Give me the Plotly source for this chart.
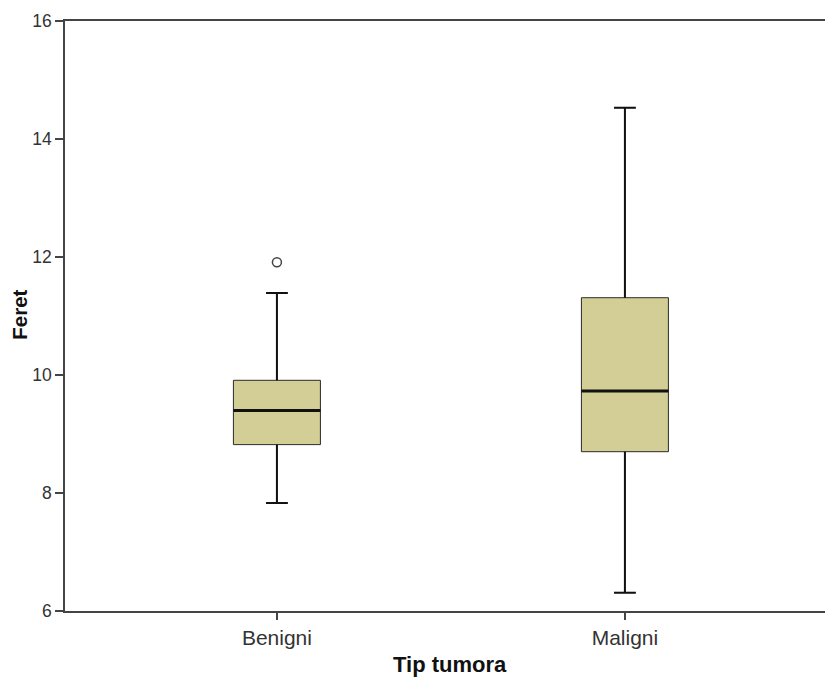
import plotly.graph_objects as go

# Feret diameter summary per tumour type
categories = ["Benigni", "Maligni"]
positions = [0, 1]
q1 = [8.82, 8.70]
median = [9.40, 9.73]
q3 = [9.91, 11.31]
lower_fence = [7.83, 6.31]
upper_fence = [11.39, 14.53]
outlier_pos = [0]
outlier_val = [11.91]

y_ticks = [6, 8, 10, 12, 14, 16]

BOX_W = 0.25
CAP_W = 0.0625
FILL = "#D2CE96"
INK = "#111111"
FONT = "Liberation Sans, Arial, sans-serif"

fig = go.Figure()

fig.add_trace(go.Box(
    x=positions, q1=q1, median=median, q3=q3,
    lowerfence=lower_fence, upperfence=upper_fence,
    width=BOX_W, whiskerwidth=CAP_W / BOX_W,
    fillcolor=FILL, line=dict(color="#2a2a2a", width=1),
    boxpoints=False, hoverinfo="skip", showlegend=False,
))

# heavier whiskers, caps and median bars drawn over the box outline
for xp, lo, a, b, hi, md in zip(positions, lower_fence, q1, q3, upper_fence, median):
    segs = [
        ([xp, xp], [b, hi], 2),
        ([xp, xp], [lo, a], 2),
        ([xp - CAP_W / 2, xp + CAP_W / 2], [hi, hi], 2),
        ([xp - CAP_W / 2, xp + CAP_W / 2], [lo, lo], 2),
        ([xp - BOX_W / 2, xp + BOX_W / 2], [md, md], 3),
    ]
    for sx, sy, w in segs:
        fig.add_trace(go.Scatter(
            x=sx, y=sy, mode="lines", line=dict(color=INK, width=w),
            hoverinfo="skip", showlegend=False,
        ))

fig.add_trace(go.Scatter(
    x=outlier_pos, y=outlier_val, mode="markers",
    marker=dict(symbol="circle-open", size=9, color="#444444",
                line=dict(width=1.5, color="#444444")),
    hoverinfo="skip", showlegend=False,
))

fig.update_layout(
    width=825, height=679,
    margin=dict(l=65, r=0, t=21, b=67.5),
    paper_bgcolor="white", plot_bgcolor="white",
    font=dict(family=FONT, color="#333333"),
    xaxis=dict(
        range=[-0.609, 1.575], tickvals=positions, ticktext=categories,
        showgrid=False, zeroline=False,
        showline=True, linecolor="#444444", linewidth=1.5, mirror=True,
        ticks="outside", ticklen=7, tickcolor="#444444", tickwidth=1.5,
        tickfont=dict(size=21, color="#333333"),
    ),
    yaxis=dict(
        range=[6, 16], tickvals=y_ticks,
        showgrid=False, zeroline=False,
        showline=True, linecolor="#444444", linewidth=1.5,
        ticks="outside", ticklen=8, tickcolor="#444444", tickwidth=1.5,
        tickfont=dict(size=17.5, color="#333333"),
    ),
    annotations=[
        dict(text="<b>Tip tumora</b>", xref="paper", yref="paper",
             x=(450 - 65) / 760, y=-0.0906, xanchor="center", yanchor="middle",
             showarrow=False, font=dict(size=22, color="#111111", family=FONT)),
        dict(text="<b>Feret</b>", xref="paper", yref="paper",
             x=-0.0592, y=(611.5 - 315) / 590.5, xanchor="center", yanchor="middle",
             textangle=-90, showarrow=False,
             font=dict(size=20.5, color="#111111", family=FONT)),
    ],
)

fig.write_html("out.html")
